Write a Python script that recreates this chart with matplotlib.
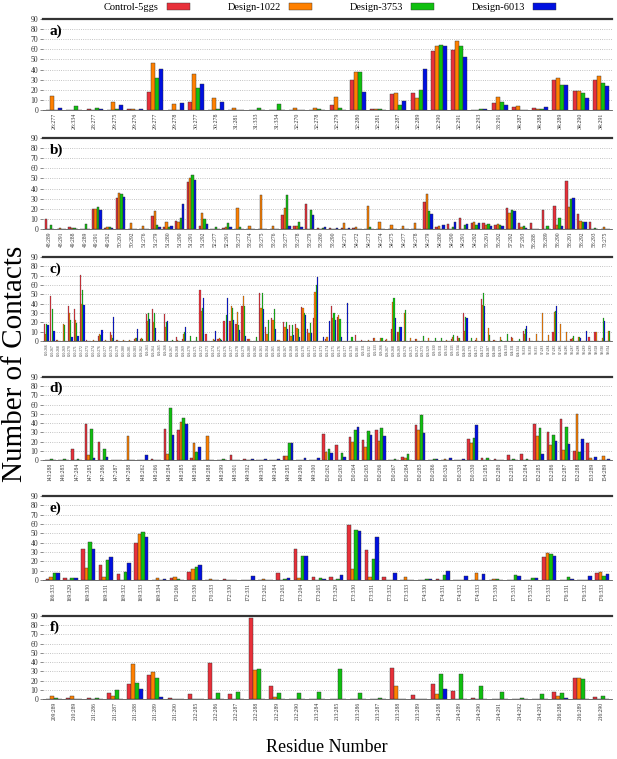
import numpy as np
import matplotlib
matplotlib.use("Agg")
import matplotlib.pyplot as plt

plt.rcParams['font.family'] = ['Liberation Serif', 'DejaVu Serif']

series_names = ["Control-5ggs", "Design-1022", "Design-3753", "Design-6013"]
colors = ["#e8303a", "#ff8000", "#10c010", "#0010e0"]

# ---- panel a
a_labels = ["26:277", "26:334", "28:277", "29:275", "29:276", "29:277", "29:278",
            "30:277", "30:278", "31:281", "31:333", "31:334", "32:270", "32:278",
            "32:279", "32:280", "32:281", "32:287", "32:289", "32:290", "32:291",
            "32:293", "33:291", "34:287", "34:288", "34:289", "34:290", "34:291"]
a_ctrl = [0, 0, 1, 0, 1, 18, 0, 8, 0, 0, 0, 0, 0, 0, 5, 30, 1, 16, 17, 58, 59, 0, 7, 3, 2, 30, 19, 30]
a_1022 = [14, 0, 0, 8, 1, 46, 6, 36, 12, 2, 0, 0, 2, 2, 13, 38, 1, 17, 12, 63, 68, 0, 13, 4, 1, 32, 19, 34]
a_3753 = [0, 4, 2, 1, 0, 32, 0, 22, 1, 0, 2, 6, 0, 1, 2, 38, 1, 5, 20, 64, 63, 1, 8, 0, 1, 25, 17, 27]
a_6013 = [2, 0, 1, 5, 1, 41, 7, 26, 8, 0, 0, 0, 0, 0, 0, 18, 0, 9, 41, 63, 52, 1, 5, 0, 3, 25, 12, 24]

# ---- panel b
b_labels = ["48:289", "48:291", "49:288", "49:289", "49:291", "49:292", "50:291", "50:292",
            "51:276", "51:279", "51:280", "51:290", "51:291", "51:292", "52:277", "52:291",
            "53:273", "53:274", "53:275", "53:276", "53:277", "53:278", "53:279", "53:280",
            "53:290", "54:271", "54:272", "54:273", "54:274", "54:275", "54:277", "54:278",
            "54:279", "54:280", "54:290", "54:291", "54:292", "55:291", "55:292", "57:292",
            "57:293", "58:288", "58:289", "58:290", "58:291", "58:292", "58:293", "73:275"]
b_ctrl = [10, 0, 2, 0, 20, 1, 31, 0, 0, 13, 2, 8, 46, 3, 0, 1, 0, 0, 0, 0, 14, 3, 25, 1,
          1, 1, 1, 0, 0, 0, 0, 0, 27, 2, 5, 11, 6, 6, 4, 21, 6, 6, 19, 23, 47, 15, 7, 0]
b_1022 = [0, 1, 1, 0, 20, 2, 36, 6, 3, 18, 7, 7, 50, 16, 0, 2, 21, 3, 34, 3, 21, 3, 0, 0,
          0, 6, 2, 23, 7, 4, 3, 6, 35, 3, 0, 0, 7, 4, 5, 16, 2, 0, 0, 4, 22, 8, 0, 2]
b_3753 = [4, 0, 1, 5, 22, 2, 35, 0, 0, 4, 2, 11, 53, 10, 2, 6, 2, 0, 0, 0, 34, 7, 19, 1,
          0, 0, 0, 2, 0, 0, 0, 0, 18, 0, 2, 4, 4, 5, 4, 19, 3, 0, 3, 11, 30, 7, 1, 0]
b_6013 = [0, 0, 0, 0, 19, 1, 32, 0, 0, 2, 3, 25, 48, 5, 0, 2, 0, 0, 0, 0, 3, 2, 14, 2,
          1, 1, 0, 0, 0, 0, 0, 0, 15, 4, 7, 5, 6, 3, 3, 18, 1, 0, 0, 3, 31, 7, 0, 0]

# ---- panel c
c_labels = ["100:266", "100:267", "100:268", "100:269", "100:270", "100:271", "100:272", "100:273",
            "100:274", "100:276", "100:277", "100:278", "100:279", "100:280", "100:281", "100:283",
            "101:262", "101:263", "101:264", "101:265", "101:266", "101:267", "101:268", "101:269",
            "101:270", "101:271", "101:272", "101:273", "101:274", "101:275",
            "101:276", "101:277", "101:278", "101:279", "101:280", "101:282", "102:263", "102:264",
            "102:265", "102:266", "102:267", "102:268", "102:269", "102:270", "102:271", "102:272",
            "102:273", "102:274", "102:275", "102:276",
            "102:277", "102:278", "102:281", "102:331", "102:332", "102:333", "103:266", "103:267",
            "103:268", "103:269", "103:270", "103:271", "103:272", "103:273", "103:329", "103:330",
            "103:331", "103:332", "103:333", "103:334", "104:269", "104:270", "104:271", "104:272",
            "104:287", "104:288", "104:329", "104:330", "104:331", "104:334",
            "96:329", "96:330", "96:331", "97:283", "97:284", "97:285", "97:286", "98:286",
            "98:287", "98:288", "98:289", "99:289", "99:328", "99:330", "99:334"]
c_ctrl = [18, 48, 1, 0, 37, 34, 71, 1, 0, 5, 0, 10, 1, 0, 0, 2, 2, 29, 34, 1, 29, 0, 4, 2,
          0, 0, 55, 7, 0, 2, 21, 21, 18, 38, 2, 0, 51, 15, 25, 1, 20, 17, 18, 36, 13, 25,
          0, 2, 37, 26, 0, 0, 6, 1, 0, 3, 0, 1, 13, 10, 0, 0, 2, 0, 0, 0, 0, 0, 2, 5, 30,
          0, 1, 45, 0, 1, 0, 0, 4, 0, 11, 3, 0, 0, 0, 10, 0, 0, 2, 0, 0, 4, 10, 0, 0]
c_1022 = [8, 0, 1, 18, 30, 22, 40, 0, 1, 8, 1, 6, 1, 1, 1, 3, 3, 21, 20, 0, 15, 0, 1, 8,
          0, 0, 32, 0, 2, 3, 0, 37, 31, 48, 2, 0, 35, 8, 23, 1, 15, 5, 14, 35, 9, 52,
          0, 4, 25, 28, 0, 0, 0, 0, 1, 3, 3, 2, 42, 10, 30, 3, 2, 0, 3, 0, 0, 1, 4, 3, 11,
          0, 3, 39, 14, 1, 4, 0, 3, 0, 7, 0, 8, 30, 6, 31, 18, 10, 3, 4, 0, 0, 10, 3, 11]
c_3753 = [18, 34, 0, 17, 23, 19, 55, 0, 0, 6, 0, 3, 0, 0, 0, 3, 2, 30, 30, 0, 20, 1, 0, 10,
          5, 4, 35, 0, 1, 2, 28, 35, 17, 37, 0, 4, 51, 22, 34, 0, 20, 17, 13, 30, 19, 60,
          0, 0, 30, 24, 0, 4, 0, 0, 0, 0, 3, 0, 46, 15, 33, 0, 0, 5, 0, 3, 3, 0, 6, 3, 26,
          3, 0, 51, 6, 0, 1, 8, 0, 2, 13, 0, 0, 0, 0, 32, 0, 0, 5, 4, 0, 0, 0, 25, 11]
c_6013 = [17, 11, 0, 0, 4, 5, 39, 0, 0, 12, 0, 26, 0, 0, 0, 13, 0, 24, 14, 0, 21, 0, 0, 15,
          0, 0, 46, 0, 11, 1, 46, 22, 12, 5, 0, 0, 34, 0, 13, 0, 13, 6, 4, 28, 9, 69,
          4, 21, 23, 4, 41, 0, 0, 0, 0, 0, 0, 0, 25, 15, 0, 0, 0, 0, 0, 0, 0, 0, 0, 0, 25,
          0, 0, 37, 0, 0, 0, 0, 0, 0, 16, 0, 0, 0, 0, 37, 0, 0, 0, 3, 11, 0, 0, 21, 0]

# ---- panel d
d_labels = ["143:288", "146:285", "147:284", "147:285", "147:286", "147:287", "147:288",
            "148:262", "148:266", "148:284", "148:285", "148:286", "148:288", "148:299",
            "148:301", "149:302", "149:305", "149:284", "149:285", "149:286", "149:300",
            "150:262", "150:263", "150:264", "150:265", "150:266", "150:267", "150:284",
            "150:285", "150:286", "150:326", "150:329", "150:330", "151:285", "152:280",
            "152:283", "152:284", "152:285", "152:286", "152:287", "152:288", "153:289",
            "154:289"]
d_ctrl = [0, 0, 12, 39, 20, 0, 0, 0, 1, 34, 33, 2, 0, 0, 5, 1, 0, 0, 4, 0, 0, 28, 16, 25,
          22, 32, 0, 3, 38, 0, 0, 0, 23, 2, 1, 5, 6, 39, 30, 44, 10, 18, 0]
d_1022 = [0, 0, 0, 5, 0, 0, 26, 0, 0, 6, 41, 18, 26, 0, 0, 0, 0, 0, 4, 0, 0, 9, 0, 19,
          14, 21, 0, 2, 32, 0, 1, 0, 18, 0, 0, 0, 0, 26, 16, 11, 50, 2, 4]
d_3753 = [1, 1, 1, 34, 12, 0, 0, 0, 0, 56, 46, 9, 0, 1, 0, 0, 0, 0, 18, 0, 0, 12, 8, 33,
          31, 35, 1, 6, 49, 1, 0, 0, 24, 2, 0, 1, 1, 35, 27, 36, 9, 0, 0]
d_6013 = [0, 0, 0, 2, 3, 0, 0, 5, 0, 27, 39, 14, 0, 0, 0, 1, 1, 1, 18, 2, 2, 8, 3, 36,
          27, 26, 0, 0, 29, 1, 2, 1, 38, 0, 0, 0, 0, 6, 21, 17, 23, 3, 1]

# ---- panel e
e_labels = ["166:333", "169:329", "169:330", "169:331", "169:332", "169:333", "169:334",
            "170:266", "170:330", "170:333", "172:330", "172:331", "173:262", "173:263",
            "173:264", "173:265", "173:329", "173:330", "173:331", "173:332", "173:333",
            "174:330", "174:331", "174:332", "174:333", "175:330", "175:331", "175:332",
            "175:333", "176:331", "176:332", "176:333"]
e_ctrl = [1, 2, 33, 16, 6, 40, 0, 2, 9, 0, 1, 0, 0, 8, 33, 3, 3, 59, 32, 3, 0, 0, 1, 0,
          0, 0, 0, 0, 25, 0, 0, 8]
e_1022 = [3, 0, 13, 3, 0, 49, 2, 3, 12, 1, 0, 0, 1, 0, 2, 0, 0, 12, 3, 0, 3, 0, 0, 0,
          7, 1, 0, 0, 29, 0, 0, 9]
e_3753 = [7, 2, 41, 21, 9, 51, 0, 1, 14, 0, 0, 0, 0, 1, 26, 2, 1, 54, 22, 0, 0, 1, 5, 0,
          0, 1, 5, 2, 28, 3, 0, 4]
e_6013 = [7, 2, 33, 25, 18, 46, 1, 0, 16, 0, 0, 4, 0, 2, 26, 1, 5, 52, 46, 7, 0, 1, 10, 4,
          6, 0, 4, 2, 26, 1, 4, 6]

# ---- panel f
f_labels = ["209:289", "210:289", "211:286", "211:287", "211:288", "211:289", "211:290",
            "212:285", "212:286", "212:287", "212:288", "212:289", "212:290", "213:284",
            "213:285", "213:286", "213:287", "213:288", "213:289", "214:288", "214:289",
            "214:290", "214:291", "214:292", "214:293", "216:288", "216:289", "216:290"]
f_ctrl = [0, 1, 1, 6, 16, 26, 1, 5, 39, 5, 88, 14, 0, 0, 0, 0, 0, 34, 4, 16, 9, 1, 0, 0,
          0, 8, 23, 2]
f_1022 = [3, 3, 0, 3, 38, 29, 0, 0, 0, 0, 31, 2, 0, 0, 0, 0, 0, 14, 0, 5, 0, 0, 0, 0,
          0, 3, 23, 0]
f_3753 = [1, 0, 1, 10, 17, 23, 0, 0, 6, 8, 32, 6, 6, 8, 32, 6, 1, 0, 0, 27, 27, 14, 8, 1,
          5, 7, 22, 3]
f_6013 = [0, 0, 0, 0, 11, 2, 0, 0, 0, 0, 0, 0, 0, 0, 0, 0, 0, 0, 0, 11, 0, 0, 0, 0,
          0, 1, 0, 0]

panels = [
    ("a)", a_labels, [a_ctrl, a_1022, a_3753, a_6013], 19, 110, 4.2),
    ("b)", b_labels, [b_ctrl, b_1022, b_3753, b_6013], 138, 229, 4.0),
    ("c)", c_labels, [c_ctrl, c_1022, c_3753, c_6013], 257, 341, 2.6),
    ("d)", d_labels, [d_ctrl, d_1022, d_3753, d_6013], 377, 460, 4.0),
    ("e)", e_labels, [e_ctrl, e_1022, e_3753, e_6013], 496, 580, 4.0),
    ("f)", f_labels, [f_ctrl, f_1022, f_3753, f_6013], 616, 699, 4.0),
]

W, H = 617, 759
fig = plt.figure(figsize=(W / 100, H / 100), dpi=100)

left, right = 43 / W, 612 / W
handles = None
for tag, labels, series, top_px, bot_px, lab_fs in panels:
    ax = fig.add_axes([left, 1 - bot_px / H, right - left, (bot_px - top_px) / H])
    x = np.arange(len(labels))
    bw = 0.2
    lw = 0.3 if len(labels) < 60 else 0.15
    bars = []
    for k, vals in enumerate(series):
        b = ax.bar(x + (k - 1.5) * bw, vals, width=bw, color=colors[k],
                   edgecolor="#333333", linewidth=lw, zorder=3)
        bars.append(b)
    handles = bars
    ax.set_xlim(-0.55, len(labels) - 0.45)
    ax.set_ylim(0, 90)
    ax.set_yticks(range(0, 91, 10))
    ax.yaxis.grid(True, color="#b0b0b0", linestyle=":", linewidth=0.6, zorder=0)
    ax.set_xticks(x)
    ax.set_xticklabels(labels, rotation=90, fontsize=lab_fs, color="#333333")
    ax.tick_params(axis="y", labelsize=5.5, length=2, width=0.4, pad=1.5, colors="#333333")
    ax.tick_params(axis="x", length=0, pad=2)
    for s in ("left", "right"):
        ax.spines[s].set_visible(False)
    ax.spines["top"].set_linewidth(1.6)
    ax.spines["top"].set_color("#333333")
    ax.spines["bottom"].set_linewidth(0.6)
    ax.spines["bottom"].set_color("#555555")
    ax.text(0.012, 0.86, tag, transform=ax.transAxes, fontsize=11,
            fontweight="bold", va="center", ha="left")

fig.legend(handles, series_names, loc="upper center", bbox_to_anchor=(0.535, 1.009),
           ncol=4, frameon=False, markerfirst=False, fontsize=7.5,
           handlelength=2.2, handleheight=0.7, columnspacing=3.6, handletextpad=0.8)

fig.text(0.025, 0.52, "Number of Contacts", rotation=90, fontsize=21,
         va="center", ha="center")
fig.text(0.53, 1 - 748 / H, "Residue Number", fontsize=13, va="center", ha="center")

fig.savefig("out.png", dpi=100)
